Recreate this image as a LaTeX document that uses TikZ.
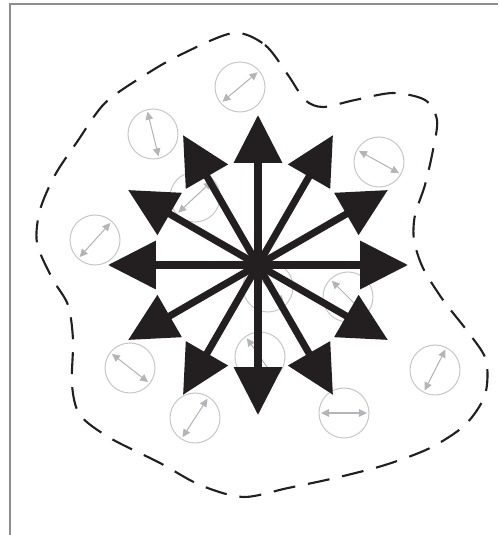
\documentclass[tikz,border=0pt]{standalone}
\usetikzlibrary{arrows.meta}
\definecolor{inkblack}{HTML}{231F20}
\definecolor{bubblegray}{HTML}{C8C9CB}
\definecolor{spingray}{HTML}{B3B5B8}
\definecolor{framegray}{HTML}{8E8E8E}
\begin{document}
\begin{tikzpicture}[x=0.02cm,y=0.02cm,
  ray/.style={draw=inkblack,line width=4pt,-{Triangle[length=0.96cm,width=0.94cm]}},
  bubble/.style={circle,draw=bubblegray,line width=0.6pt,minimum size=1cm,inner sep=0pt,outer sep=0pt},
  spin/.style={draw=spingray,line width=0.6pt,{Triangle[length=0.16cm,width=0.15cm]}-{Triangle[length=0.16cm,width=0.15cm]},shorten <=0.04cm,shorten >=0.04cm}]
\useasboundingbox (0,0) rectangle (498,535);
\draw[framegray,line width=0.8pt] (10,0) -- (10,531) -- (498,531);
% gray bubbles
\node[bubble] (b1) at (240,448) {};
\draw[spin] (b1.220) -- (b1.40);
\node[bubble] (b2) at (153,401) {};
\draw[spin] (b2.284) -- (b2.104);
\node[bubble] (b3) at (379,373) {};
\draw[spin] (b3.331) -- (b3.151);
\node[bubble] (b4) at (195,338) {};
\draw[spin] (b4.223) -- (b4.43);
\node[bubble] (b5) at (95,295) {};
\draw[spin] (b5.228) -- (b5.48);
\node[bubble] (b6) at (268,248) {};
\draw[spin] (b6.315) -- (b6.135);
\node[bubble] (b7) at (348,238) {};
\draw[spin] (b7.315) -- (b7.135);
\node[bubble] (b8) at (260,178) {};
\draw[spin] (b8.305) -- (b8.125);
\node[bubble] (b9) at (130,167) {};
\draw[spin] (b9.322) -- (b9.142);
\node[bubble] (b10) at (195,117) {};
\draw[spin] (b10.237) -- (b10.57);
\node[bubble] (b11) at (344,122) {};
\draw[spin] (b11.180) -- (b11.0);
\node[bubble] (b12) at (435,165) {};
\draw[spin] (b12.243) -- (b12.63);
% dashed outline
\draw[inkblack,line width=1.2pt,dash pattern=on 0.44cm off 0.26cm] plot[smooth cycle] coordinates {
  (233,502) (265,490) (288,460) (305,435) (323,428) (355,435) (393,442) (425,435)
  (437,415) (433,385) (425,350) (415,320) (414,295) (423,267) (443,235) (468,203)
  (486,175) (485,140) (465,110) (430,87) (385,70) (335,57) (288,47) (243,38)
  (200,50) (160,72) (110,97) (80,120) (72,150) (73,195) (68,230) (52,257)
  (37,292) (40,325) (55,360) (77,393) (105,432) (145,460) (180,480)};
% star
\coordinate (hub) at (258,270);
\coordinate (e) at (408,270);
\coordinate (ene) at (387.9,345);
\coordinate (nne) at (333,399.9);
\coordinate (n) at (258,420);
\coordinate (nnw) at (183,399.9);
\coordinate (wnw) at (128.1,345);
\coordinate (w) at (108,270);
\coordinate (wsw) at (128.1,195);
\coordinate (ssw) at (183,140.1);
\coordinate (s) at (258,120);
\coordinate (sse) at (333,140.1);
\coordinate (ese) at (387.9,195);
\draw[ray] (hub) -- (e);
\draw[ray] (hub) -- (ene);
\draw[ray] (hub) -- (nne);
\draw[ray] (hub) -- (n);
\draw[ray] (hub) -- (nnw);
\draw[ray] (hub) -- (wnw);
\draw[ray] (hub) -- (w);
\draw[ray] (hub) -- (wsw);
\draw[ray] (hub) -- (ssw);
\draw[ray] (hub) -- (s);
\draw[ray] (hub) -- (sse);
\draw[ray] (hub) -- (ese);
\end{tikzpicture}
\end{document}
